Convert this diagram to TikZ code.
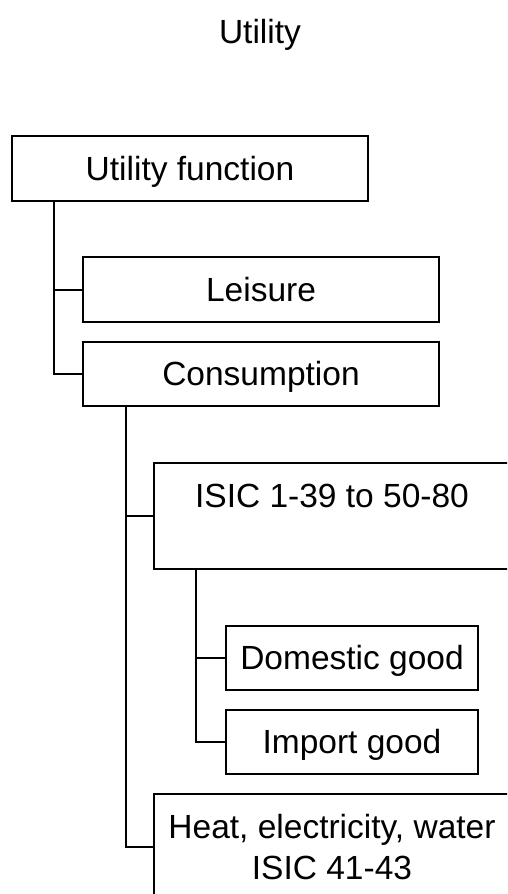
\documentclass[tikz,border=0pt]{standalone}
\usepackage{fontspec}
\setmainfont{Liberation Sans}

\tikzset{
	frame/.style={draw,inner sep=0pt,minimum width=356pt,minimum height=65pt},
	box/.style={frame,text height=23pt,text depth=0pt},
	tallbox/.style={frame,minimum height=106pt,align=center},
	smallbox/.style={box,minimum width=252pt,minimum height=64pt}
}

\begin{document}
\begin{tikzpicture}[x=1pt,y=-1pt,line width=2pt,font=\fontsize{33.5}{41}\selectfont]
	\useasboundingbox (0,0) rectangle (507,894);
	\clip (0,0) rectangle (507,894);
	\node[anchor=base] (title) at (260,43) {Utility};
	\node[box] (uf) at (190,168.5) {Utility function};
	\node[box] (leis) at (261,289.5) {Leisure};
	\node[box,minimum height=64pt] (cons) at (261,374) {Consumption};
	\node[tallbox] (isic) at (332,516) {ISIC 1-39 to 50-80\\\mbox{}};
	\node[smallbox] (dom) at (352,658) {Domestic good};
	\node[smallbox] (imp) at (352,742) {Import good};
	\node[tallbox] (heat) at (332,847) {Heat, electricity, water\\ISIC 41-43};
	\draw ([xshift=43pt]uf.south west) |- (leis.west);
	\draw ([xshift=43pt]uf.south west) |- (cons.west);
	\draw ([xshift=44pt]cons.south west) |- (isic.west);
	\draw ([xshift=44pt]cons.south west) |- (heat.west);
	\draw ([xshift=43pt]isic.south west) |- (dom.west);
	\draw ([xshift=43pt]isic.south west) |- (imp.west);
\end{tikzpicture}
\end{document}
